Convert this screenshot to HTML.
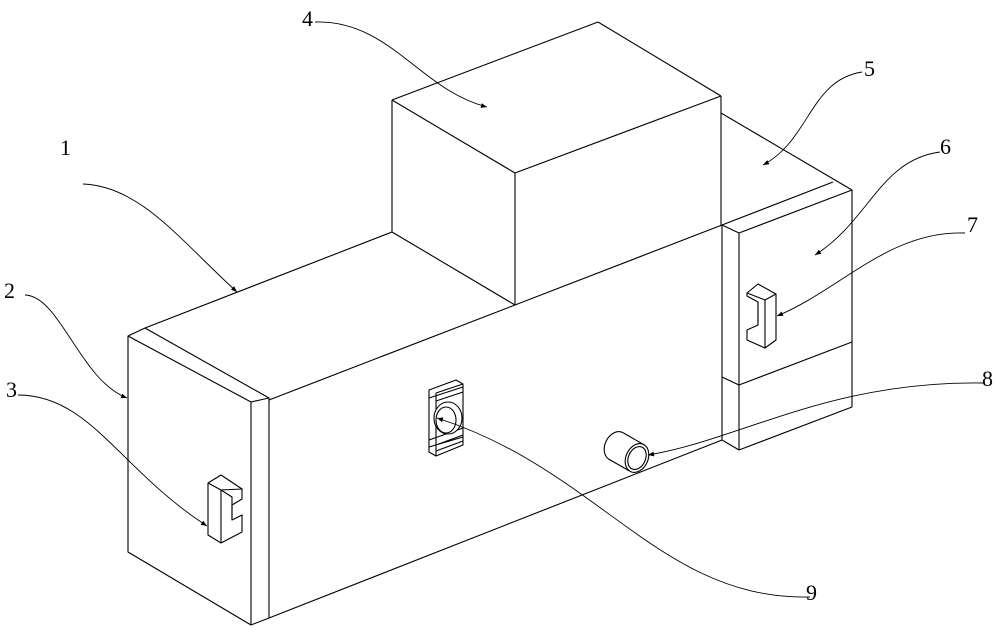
<!DOCTYPE html>
<html><head><meta charset="utf-8"><style>
html,body{margin:0;padding:0;background:#fff;}
svg{display:block}
text{font-family:"Liberation Serif",serif;font-size:22px;fill:#000}
</style></head><body>
<svg width="1000" height="632" viewBox="0 0 1000 632" xmlns="http://www.w3.org/2000/svg">
<defs>
<marker id="a" viewBox="0 0 10 10" refX="10" refY="5" markerWidth="14" markerHeight="6" orient="auto" markerUnits="userSpaceOnUse"><path d="M0,1 L10,5 L0,9 z" fill="#000"/></marker>
</defs>
<g fill="none" stroke="#000" stroke-width="1.1" stroke-linejoin="round">
<polygon points="128,336 145,328 269,398 269,618 251,625 128,552" fill="#fff"/>
<line x1="128" y1="336" x2="251" y2="402"/>
<line x1="251" y1="402" x2="269" y2="398"/>
<line x1="251" y1="402" x2="251" y2="625"/>
<line x1="145" y1="328" x2="392" y2="232"/>
<line x1="269" y1="400" x2="722" y2="225"/>
<line x1="269" y1="618" x2="722" y2="440"/>
<line x1="392" y1="232" x2="515" y2="305"/>
<line x1="392" y1="100" x2="392" y2="232"/>
<line x1="392" y1="100" x2="598" y2="22"/>
<line x1="598" y1="22" x2="721" y2="96"/>
<line x1="392" y1="100" x2="515" y2="173"/>
<line x1="515" y1="173" x2="721" y2="96"/>
<line x1="515" y1="173" x2="515" y2="305"/>
<line x1="721" y1="96" x2="721" y2="225"/>
<line x1="721" y1="113" x2="852" y2="190"/>
<line x1="833" y1="182" x2="722" y2="225"/>
<line x1="722" y1="225" x2="739" y2="233"/>
<line x1="739" y1="233" x2="852" y2="190"/>
<line x1="722" y1="225" x2="722" y2="440"/>
<line x1="739" y1="233" x2="739" y2="450"/>
<line x1="852" y1="190" x2="852" y2="407"/>
<line x1="739" y1="385" x2="852" y2="342"/>
<line x1="722" y1="377" x2="739" y2="385"/>
<line x1="739" y1="450" x2="852" y2="407"/>
<line x1="722" y1="440" x2="739" y2="450"/>
<!-- handle 3 -->
<path d="M208,483 L221,475 L242,489 L242,499 L232,505 L232,520 L242,515 L242,532 L221,543 L208,535 Z" fill="#fff"/>
<path d="M208,483 L221,490 L242,489 M221,490 L221,543 M232,505 L232,520 M221,490 L232,497 L232,505"/>
<!-- handle 7 -->
<path d="M747,293 L758,284 L776,294 L776,340 L765,348 L747,340 L747,330 L758,325 L758,302 L747,296 Z" fill="#fff"/>
<path d="M747,293 L765,300 L776,294 M765,300 L765,348 M758,325 L758,302"/>
<!-- item 9 -->
<path d="M429,390 L456,380 L463,384 L463,445 L436,456 L429,452 Z" fill="#fff"/>
<path d="M436,393 L436,456 M436,393 L463,384 M429,398 L463,387 M436,401 L463,392 M429,440 L463,428 M436,445 L463,435 M429,447 L463,437 M436,451 L463,441"/>
<ellipse cx="448" cy="418" rx="14" ry="16" fill="#fff"/>
<ellipse cx="446" cy="420" rx="10" ry="13"/>
<!-- item 8 cylinder -->
<ellipse cx="616" cy="446" rx="11" ry="15" transform="rotate(25 616 446)" fill="#fff"/>
<polygon points="608.5,459 623.5,433 644.5,445 629.5,471" fill="#fff" stroke="none"/>
<line x1="623.5" y1="433" x2="644.5" y2="445"/>
<line x1="608.5" y1="459" x2="629.5" y2="471"/>
<ellipse cx="637" cy="458" rx="11" ry="15" transform="rotate(25 637 458)" fill="#fff"/>
<ellipse cx="637" cy="458" rx="8.5" ry="12" transform="rotate(25 637 458)"/>
<g stroke-width="0.9">
<path d="M83,184 C140,186 180,240 237,292" marker-end="url(#a)"/>
<path d="M25,295 C60,296 80,380 127,398" marker-end="url(#a)"/>
<path d="M18,395 C90,395 120,470 207,526" marker-end="url(#a)"/>
<path d="M315,22 C390,20 420,90 487,107" marker-end="url(#a)"/>
<path d="M862,72 C810,80 810,140 763,165" marker-end="url(#a)"/>
<path d="M940,152 C880,160 870,220 815,255" marker-end="url(#a)"/>
<path d="M965,233 C890,230 840,290 777,316" marker-end="url(#a)"/>
<path d="M985,383 C830,380 740,440 648,455" marker-end="url(#a)"/>
<path d="M810,597 C660,600 600,470 437,418" marker-end="url(#a)"/>
</g>
</g>
<text x="60" y="155">1</text>
<text x="4" y="298">2</text>
<text x="6" y="397">3</text>
<text x="302" y="26">4</text>
<text x="864" y="76">5</text>
<text x="940" y="154">6</text>
<text x="967" y="232">7</text>
<text x="982" y="386">8</text>
<text x="806" y="600">9</text>
</svg>
</body></html>
